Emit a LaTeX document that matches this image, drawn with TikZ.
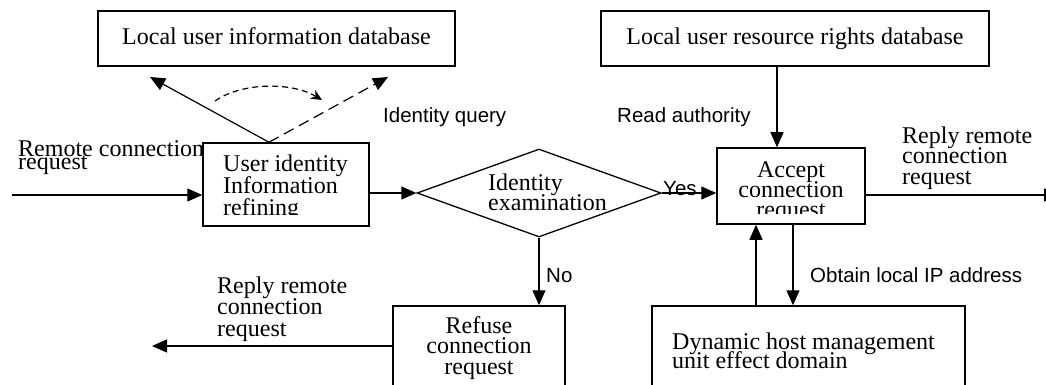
\documentclass[tikz,border=0pt]{standalone}
\usepackage{fontspec}
\setmainfont{Liberation Serif}
\newfontfamily\sanslbl{Liberation Sans}
\usetikzlibrary{arrows.meta,shapes.geometric}
\setlength{\lineskiplimit}{-100pt}
\begin{document}
\begin{tikzpicture}[x=1pt,y=-1pt,
  box/.style={draw, line width=1.5pt, fill=white, inner sep=0pt},
  serif/.style={font={\fontsize{24}{#1}\selectfont}, inner sep=0pt},
  serif/.default=21.5,
  lbl/.style={font={\sanslbl\fontsize{20.5}{24}\selectfont}, inner sep=0pt},
  conn/.style={line width=1.2pt, -{Triangle[length=15pt,width=13pt]}},
]
\useasboundingbox (0,0) rectangle (1046,385);
\clip (0,0) rectangle (1046,385);

% text partly hidden by the refining box (base = last line)
\node[serif=12.5, align=left, anchor=base west] (remtxt) at (18,169) {Remote connection\\request};

% databases
\node[box, minimum width=357pt, minimum height=55pt, text depth=5.4pt, font={\fontsize{24}{26}\selectfont}] (db1) at (276.5,38.5) {Local user information database};
\node[box, minimum width=388pt, minimum height=55pt, font={\fontsize{24}{26}\selectfont}] (db2) at (795,38.5) {Local user resource rights database};

% refining box
\node[box, minimum width=166pt, minimum height=83pt] (ref) at (286,184.5) {};
\begin{scope}
  \clip (203,143) rectangle (369,214.5);
  \node[serif=22, align=left, anchor=base west] (reftxt) at (223,215) {User identity\\Information\\refining};
\end{scope}

% diamond
\node[draw, diamond, line width=1.3pt, minimum width=244pt, minimum height=88pt, inner sep=0pt] (dia) at (539,193) {};
\node[serif=20, align=left, anchor=base west] (diatxt) at (488,210) {Identity\\examination};

% accept box
\node[box, minimum width=148pt, minimum height=76pt] (acc) at (791,186) {};
\begin{scope}
  \clip (717,148) rectangle (865,213.5);
  \node[serif=20, align=center, anchor=base] (acctxt) at (791,217) {Accept\\connection\\request};
\end{scope}

% refuse box
\node[box, minimum width=172pt, minimum height=114pt] (refu) at (479,363) {};
\node[serif=20.5, align=center, anchor=base] (refutxt) at (479,374) {Refuse\\connection\\request};

% dynamic host box
\node[box, minimum width=313pt, minimum height=114pt] (dyn) at (808.5,363) {};
\node[serif=19.5, align=left, anchor=base west] (dyntxt) at (672,368.5) {Dynamic host management\\unit effect domain};

% free texts
\node[serif=20.5, align=left, anchor=base west] (rr1) at (902,184) {Reply remote\\connection\\request};
\node[serif=21.5, align=left, anchor=base west] (rr2) at (217,336) {Reply remote\\connection\\request};

% labels
\node[lbl, anchor=base west] (iq) at (383,123) {Identity query};
\node[lbl, anchor=base west] (ra) at (617,123) {Read authority};
\node[lbl, anchor=base west] (no) at (546,282) {No};
\node[lbl, anchor=base west] (ip) at (810,282) {Obtain local IP address};

% connectors
\coordinate (inp) at (12,195);
\coordinate (rout) at (1059,195);
\coordinate (lout) at (152,346);
\coordinate (q1) at (150,77);
\coordinate (q2) at (388,77);
\coordinate (c1) at (215,101);
\coordinate (c2) at (322,100);

\draw[conn] (inp) -- (inp -| ref.west);
\draw[conn] (ref.east |- dia.west) -- (dia.west);
\draw[conn] (dia.east) -- (dia.east -| acc.west);
\node[lbl, anchor=base west] (yes) at (663,195) {Yes};
\draw[conn] (acc.east |- rout) -- (rout);
\draw[conn] ([xshift=-18pt]db2.south) -- ([xshift=-18pt]db2.south |- acc.north);
\draw[conn] (dia.south) -- (dia.south |- refu.north);
\draw[conn] (refu.west |- lout) -- (lout);
\draw[conn] ([xshift=-52.5pt]dyn.north) -- ([xshift=-52.5pt]dyn.north |- acc.south);
\draw[conn] ([xshift=2pt]acc.south) -- ([xshift=2pt]acc.south |- dyn.north);

\draw[conn] ([xshift=-17pt]ref.north) -- (q1);
\draw[conn, dash pattern=on 11pt off 6pt] ([xshift=-17pt]ref.north) -- (q2);
\draw[line width=1.2pt, dash pattern=on 6pt off 4pt, -{Stealth[length=11pt,width=10pt]}] (c1) .. controls (242,82) and (292,82) .. (c2);
\end{tikzpicture}
\end{document}
